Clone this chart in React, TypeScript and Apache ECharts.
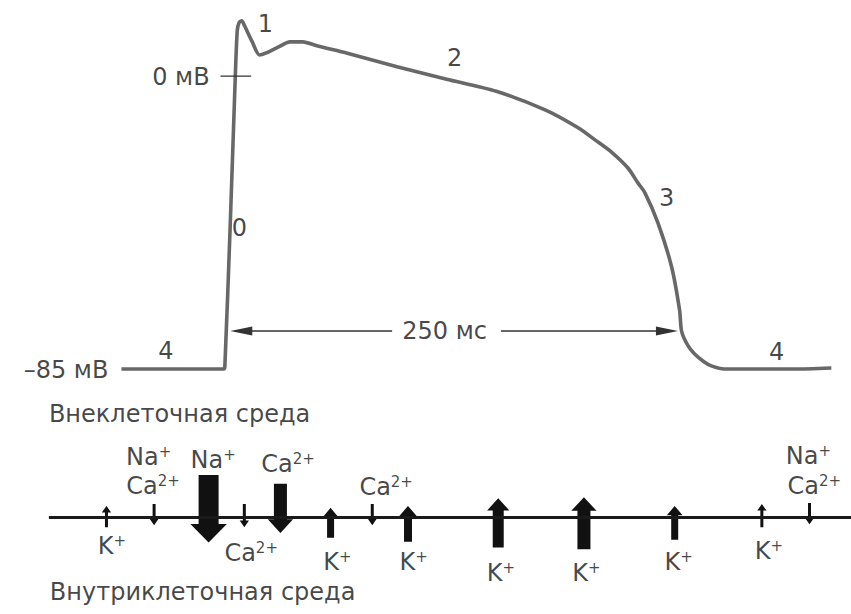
import React, { useEffect, useRef } from "react";
import * as echarts from "echarts";

const FONT = "'DejaVu Sans', 'Liberation Sans', sans-serif";
const TEXT = "#151515";

// Action potential trace: time (ms) and membrane potential (mV)
const apTime = [-59.3, -2.6, -2.0, 1.0, 3.8, 4.9, 6.0, 7.4, 9.0, 13.2, 17.2, 20.9, 27.5, 34.1, 41.2, 49.5, 65.9, 93.4, 120.9, 148.4, 175.8, 194.0, 203.3, 212.1, 221.4, 226.9, 230.8, 238.0, 245.6, 250.0, 251.1, 254.4, 258.2, 263.7, 267.6, 274.7, 313.2, 334.1];
const apMv = [-85, -85, -84.3, -43, 0, 13.3, 15.6, 16.0, 14.5, 9.9, 6.1, 6.7, 8.4, 9.9, 9.9, 8.7, 6.6, 2.7, -0.9, -4.4, -9.9, -15.1, -18.6, -22.0, -26.7, -31.0, -33.9, -42.6, -55.4, -67.9, -74.0, -78.0, -80.6, -83.0, -84.1, -85, -85, -84.7];

// 0 mV reference tick
const zeroTickTime = [-4.4, 12.6];

const potentialLabels = ["0 мВ", "–85 мВ"];
const potentialLabelTime = [-10.4, -66.5];
const potentialLabelMv = [-0.4, -85.4];

const phaseLabels = ["4", "0", "1", "2", "3", "4"];
const phaseTime = [-34.6, 6.0, 20.5, 125.3, 242.9, 303.8];
const phaseMv = [-79.8, -44.1, 15.2, 5.2, -35.4, -80.1];

// Duration arrow (250 ms)
const durationText = "250 мс";
const durationTextTime = 119.8;
const durationMv = -74;
const durationLeft = [90.7, 7.1];
const durationRight = [151.0, 243.0];

// Membrane and ion currents
const membraneTime = [-99.5, 345];
const ionArrowTime = [-67.6, -41.2, -11.0, 8.8, 28.8, 56.6, 79.7, 99.5, 149.5, 197.0, 247.3, 295.6, 322.0];
const ionArrowTail = [-10, 14, 44, 14, 35, -21, 14, -25, -31, -33, -23, -10, 15];
const ionArrowTip = [12, -8, -26, -10, -16, 10, -8, 12, 20, 21, 12, 14, -7];
const ionArrowWidth = [3, 3, 20, 3, 13, 7, 3, 8, 11, 13, 7, 3, 3];

const ionName = ["K", "Na", "Ca", "Na", "Ca", "Ca", "K", "Ca", "K", "K", "K", "K", "K", "Na", "Ca"];
const ionCharge = ["+", "+", "2+", "+", "2+", "2+", "+", "2+", "+", "+", "+", "+", "+", "+", "2+"];
const ionLabelTime = [-64.6, -44.2, -41.8, -8.5, 12.6, 33.0, 60.4, 87.4, 102.7, 151.0, 198.4, 249.5, 299.5, 321.4, 324.7];
const ionLabelPos = [-30, 62.5, 33, 60, -37, 55, -46, 32, -46, -57, -57, -46, -35, 63.5, 32.5];

const sideText = ["Внеклеточная среда", "Внутриклеточная среда"];
const sideTime = [-99.5, -99.0];
const sidePos = [107.7, -77.3];

export default function App() {
  const ref = useRef<HTMLDivElement>(null);
  useEffect(() => {
    if (!ref.current) return;
    const chart = echarts.init(ref.current, null, { renderer: "svg" });
    const baseText = { fontFamily: FONT, fontSize: 24, color: TEXT };
    const rich = {
      b: { fontFamily: FONT, fontSize: 24, color: TEXT, lineHeight: 20 },
      s: { fontFamily: FONT, fontSize: 15, color: TEXT, lineHeight: 10, padding: [0, 0, 10, 0] },
    };
    const option: any = {
      animation: false,
      backgroundColor: "#ffffff",
      grid: [
        { left: 48, top: 7.1, width: 809.9, height: 379.1 },
        { left: 48, top: 401.7, width: 809.9, height: 220 },
      ],
      xAxis: [
        { type: "value", gridIndex: 0, min: -100, max: 345, show: false },
        { type: "value", gridIndex: 1, min: -100, max: 345, show: false },
      ],
      yAxis: [
        { type: "value", gridIndex: 0, min: -90, max: 20, show: false },
        { type: "value", gridIndex: 1, min: -100, max: 120, show: false },
      ],
      series: [
        {
          type: "line",
          xAxisIndex: 0,
          yAxisIndex: 0,
          data: apTime.map((t, i) => [t, apMv[i]]),
          showSymbol: false,
          smooth: 0.25,
          silent: true,
          lineStyle: { color: "#686868", width: 3.6 },
          markLine: {
            silent: true,
            symbol: ["none", "triangle"],
            symbolSize: [9, 22],
            label: { show: false },
            lineStyle: { color: "#333", width: 1.5, type: "solid" },
            data: [
              [{ coord: [durationLeft[0], durationMv] }, { coord: [durationLeft[1], durationMv] }],
              [{ coord: [durationRight[0], durationMv] }, { coord: [durationRight[1], durationMv] }],
            ],
          },
        },
        {
          type: "line",
          xAxisIndex: 0,
          yAxisIndex: 0,
          data: zeroTickTime.map((t) => [t, 0]),
          showSymbol: false,
          silent: true,
          lineStyle: { color: "#333", width: 1.3 },
        },
        {
          type: "scatter",
          xAxisIndex: 0,
          yAxisIndex: 0,
          symbolSize: 1,
          silent: true,
          itemStyle: { color: "transparent" },
          label: { show: true, position: "inside", ...baseText, verticalAlign: "middle" },
          data: [
            ...phaseLabels.map((p, i) => ({ value: [phaseTime[i], phaseMv[i]], label: { formatter: p, align: "center" } })),
            ...potentialLabels.map((p, i) => ({ value: [potentialLabelTime[i], potentialLabelMv[i]], label: { formatter: p, align: "right" } })),
            { value: [durationTextTime, durationMv], label: { formatter: durationText, align: "center" } },
          ],
        },
        {
          type: "line",
          xAxisIndex: 1,
          yAxisIndex: 1,
          data: membraneTime.map((t) => [t, 0]),
          showSymbol: false,
          silent: true,
          lineStyle: { color: "#1a1a1a", width: 3 },
        },
        {
          type: "custom",
          xAxisIndex: 1,
          yAxisIndex: 1,
          silent: true,
          data: ionArrowTime.map((t, i) => [t, ionArrowTail[i], ionArrowTip[i], ionArrowWidth[i]]),
          renderItem: (params: any, api: any) => {
            const t = api.value(0);
            const w = api.value(3);
            const pTail = api.coord([t, api.value(1)]);
            const pTip = api.coord([t, api.value(2)]);
            const cx = pTail[0];
            const y0 = pTail[1];
            const y1 = pTip[1];
            const dir = y1 > y0 ? 1 : -1;
            const hw = w * 1.6 + 4.5;
            const hl = w * 0.7 + 4.5;
            const yb = y1 - dir * hl;
            return {
              type: "polygon",
              shape: {
                points: [
                  [cx - w / 2, y0],
                  [cx + w / 2, y0],
                  [cx + w / 2, yb],
                  [cx + hw / 2, yb],
                  [cx, y1],
                  [cx - hw / 2, yb],
                  [cx - w / 2, yb],
                ],
              },
              style: { fill: "#111" },
            };
          },
        },
        {
          type: "scatter",
          xAxisIndex: 1,
          yAxisIndex: 1,
          symbolSize: 1,
          silent: true,
          itemStyle: { color: "transparent" },
          label: { show: true, position: "inside", ...baseText, verticalAlign: "middle" },
          data: [
            ...ionName.map((n, i) => ({
              value: [ionLabelTime[i], ionLabelPos[i]],
              label: { formatter: `{b|${n}}{s|${ionCharge[i]}}`, align: "center", rich },
            })),
            ...sideText.map((s, i) => ({ value: [sideTime[i], sidePos[i]], label: { formatter: s, align: "left" } })),
          ],
        },
      ],
    };
    chart.setOption(option);
    return () => chart.dispose();
  }, []);
  return <div ref={ref} style={{ position: "fixed", left: 0, top: 0, width: 851, height: 614, background: "#fff" }} />;
}
